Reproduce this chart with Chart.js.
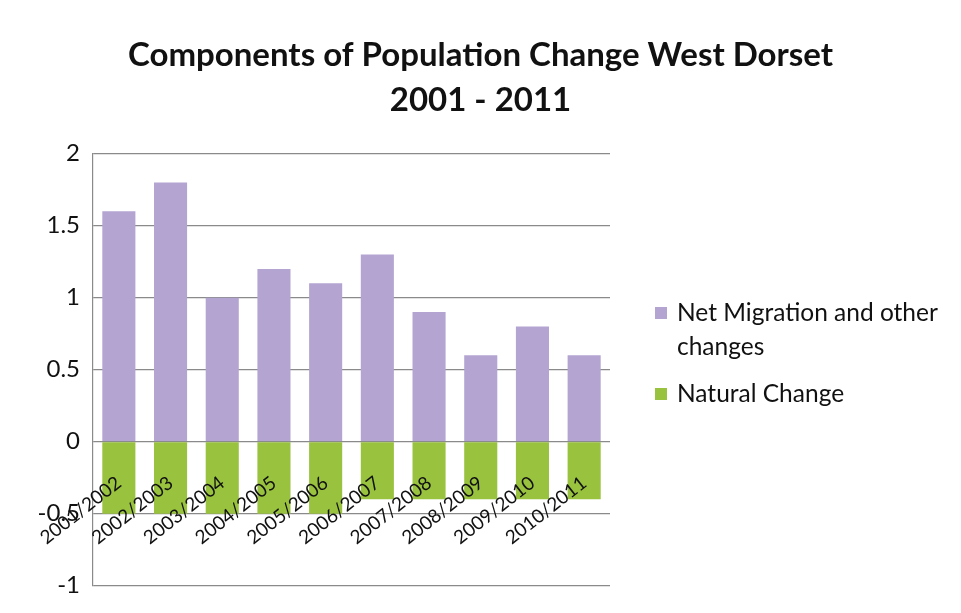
<!DOCTYPE html>
<html>
<head>
<meta charset="utf-8">
<script src="https://cdn.jsdelivr.net/npm/chart.js@4/dist/chart.umd.min.js"></script>
<style>
  body { margin: 0; background: #fff; }
  #wrap { position: relative; width: 961px; height: 613px; }
  #legend { position: absolute; left: 655px; top: 295px; font-family: Lato, sans-serif; font-size: 24.5px; color: #111; line-height: 34px; }
  .item { position: relative; padding-left: 22px; width: 295px; margin-bottom: 13px; }
  .box { position: absolute; left: 0; top: 12px; width: 12px; height: 12px; }
</style>
</head>
<body>
<div id="wrap">
  <canvas id="myChart" width="961" height="613"></canvas>
  <div id="legend"></div>
</div>
<script>
// values (percent)
let years = ['2001/2002', '2002/2003', '2003/2004', '2004/2005', '2005/2006',
             '2006/2007', '2007/2008', '2008/2009', '2009/2010', '2010/2011'];
let migration = [1.6, 1.8, 1.0, 1.2, 1.1, 1.3, 0.9, 0.6, 0.8, 0.6];
let natural = [-0.5, -0.5, -0.5, -0.5, -0.5, -0.4, -0.4, -0.4, -0.4, -0.4];
let yTicks = [-1, -0.5, 0, 0.5, 1, 1.5, 2];

let purple = '#b4a4d2';
let green = '#99c23e';

let legendItems = [
    { text: 'Net Migration and other changes', color: purple },
    { text: 'Natural Change', color: green }
];

let legend = document.getElementById('legend');
legendItems.forEach(function (it) {
    let d = document.createElement('div');
    d.className = 'item';
    d.innerHTML = '<span class="box" style="background:' + it.color + '"></span>' + it.text;
    legend.appendChild(d);
});

// title should be centred on the whole picture, not on the plot
let wideTitle = {
    id: 'wideTitle',
    afterLayout: function (chart) {
        let t = chart.titleBlock;
        t.left = 0;
        t.right = chart.width;
        t.width = chart.width;
    }
};

let ctx = document.getElementById('myChart');
let myChart = new Chart(ctx, {
    type: 'bar',
    data: {
        labels: years,
        datasets: [{
            label: 'Net Migration and other changes',
            data: migration,
            backgroundColor: purple,
            barPercentage: 0.64,
            categoryPercentage: 1
        }, {
            label: 'Natural Change',
            data: natural,
            backgroundColor: green,
            barPercentage: 0.64,
            categoryPercentage: 1
        }]
    },
    plugins: [wideTitle],
    options: {
        responsive: false,
        animation: false,
        layout: {
            padding: { left: 10, right: 351, top: 0, bottom: 24 }
        },
        plugins: {
            legend: { display: false },
            tooltip: { enabled: false },
            title: {
                display: true,
                text: ['Components of Population Change West Dorset', '2001 - 2011'],
                color: '#111',
                font: { family: 'Lato', size: 33, weight: 'bold', lineHeight: 1.36 },
                padding: { top: 33, bottom: 31 }
            }
        },
        scales: {
            x: {
                stacked: true,
                position: { y: 0 },
                grid: { display: false },
                border: { display: false },
                ticks: {
                    z: 1,
                    minRotation: 38,
                    maxRotation: 38,
                    padding: 22,
                    color: '#111',
                    font: { family: 'Lato', size: 19 }
                }
            },
            y: {
                stacked: true,
                min: -1,
                max: 2,
                afterBuildTicks: function (scale) {
                    scale.ticks = yTicks.map(function (v) { return { value: v }; });
                },
                afterFit: function (scale) {
                    scale.width = 83;
                },
                grid: { color: '#8a8a8a', lineWidth: 1.2, drawTicks: false },
                border: { display: true, color: '#8a8a8a', width: 1.2 },
                ticks: {
                    padding: 13,
                    color: '#111',
                    font: { family: 'Lato', size: 24 },
                    callback: function (v) { return String(v); }
                }
            }
        }
    }
});
</script>
</body>
</html>
